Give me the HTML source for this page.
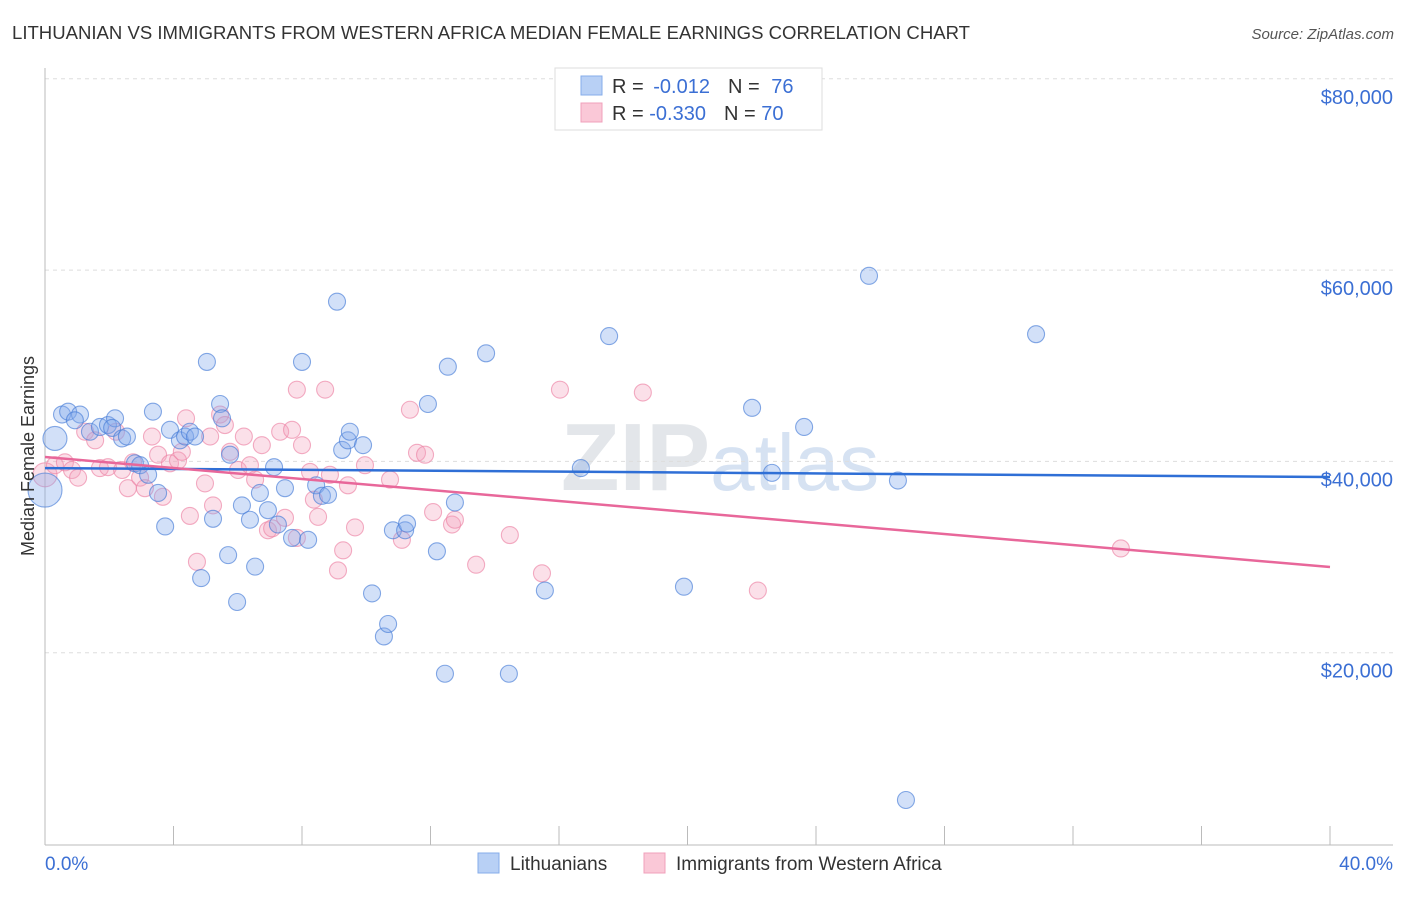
<!DOCTYPE html>
<html><head><meta charset="utf-8"><style>
body{margin:0;background:#fff;font-family:"Liberation Sans",sans-serif}
svg text{font-family:"Liberation Sans",sans-serif}
</style></head><body>
<svg id="chart" width="1406" height="892" xmlns="http://www.w3.org/2000/svg">
<text x="12" y="39" font-size="18" fill="#333" textLength="958" lengthAdjust="spacingAndGlyphs">LITHUANIAN VS IMMIGRANTS FROM WESTERN AFRICA MEDIAN FEMALE EARNINGS CORRELATION CHART</text>
<text x="1394" y="39" font-size="15" fill="#555" text-anchor="end" font-style="italic">Source: ZipAtlas.com</text>
<text x="720" y="490" font-size="96" fill="#e3e6ea" text-anchor="middle" font-family="Liberation Serif"><tspan font-weight="bold">ZIP</tspan><tspan fill="#d6e2f2" font-family="Liberation Sans" font-size="80">atlas</tspan></text>
<g id="grid"></g>
<g id="axes"></g>
<g id="pts"></g>
<g id="trends"></g>
<g>
<rect x="555" y="68" width="267" height="62" fill="#fff" stroke="#ddd"/>
<rect x="581" y="76" width="21" height="19" fill="#b8d0f5" stroke="#86acea"/>
<rect x="581" y="103" width="21" height="19" fill="#fac8d7" stroke="#f0a0bb"/>
<text x="612" y="93" font-size="20" fill="#333">R = <tspan fill="#3b6fd4" dx="4">-0.012</tspan><tspan dx="18" fill="#333">N = </tspan><tspan fill="#3b6fd4" dx="6">76</tspan></text>
<text x="612" y="120" font-size="20" fill="#333">R = <tspan fill="#3b6fd4">-0.330</tspan><tspan dx="18" fill="#333">N = </tspan><tspan fill="#3b6fd4">70</tspan></text>
</g>
<g>
<rect x="478" y="853" width="21" height="20" fill="#b8d0f5" stroke="#86acea"/>
<text x="510" y="870" font-size="19" fill="#333">Lithuanians</text>
<rect x="644" y="853" width="21" height="20" fill="#fac8d7" stroke="#f0a0bb"/>
<text x="676" y="870" font-size="19" fill="#333">Immigrants from Western Africa</text>
</g>
<text transform="translate(34,456) rotate(-90)" font-size="18" fill="#333" text-anchor="middle">Median Female Earnings</text>
</svg>
<script>
const yTicks=[20000,40000,60000,80000];
const yTickLabels=["$20,000","$40,000","$60,000","$80,000"];
const xTickLabels=["0.0%","40.0%"];
const blueX=[0.31,0,0.53,0.72,1.09,0.93,1.40,1.71,1.96,2.18,2.09,2.40,2.55,2.80,2.96,3.21,3.36,3.52,3.74,3.89,4.20,4.36,4.51,4.67,4.86,5.04,5.23,5.45,5.51,5.70,5.76,5.98,6.13,6.38,6.54,6.69,6.94,7.13,7.25,7.47,7.69,8.00,8.19,8.44,8.62,8.81,9.09,9.25,9.43,9.49,9.90,10.18,10.55,10.68,10.83,11.21,11.27,11.92,12.20,12.54,12.76,13.73,14.44,12.45,15.56,16.68,17.56,19.89,22.01,22.63,23.63,25.65,26.55,26.80,30.85,20.73];
const blueY=[42400,37000,44900,45200,44900,44300,43100,43600,43800,44500,43500,42400,42600,39800,39600,38600,45200,36700,33200,43300,42200,42600,43100,42600,27800,50400,34000,46000,44500,30200,40700,25300,35400,33900,29000,36700,34900,39400,33400,37200,32000,50400,31800,37500,36400,36500,56700,41200,42200,43100,41700,26200,21700,23000,32800,32800,33500,46000,30600,49900,35700,51300,17800,17800,26500,39300,53100,26900,45600,38800,43600,59400,38000,4600,53300,78100];
const blueR=[12,17];
const pinkX=[0,0.31,0.62,0.84,1.03,1.25,1.56,1.71,1.96,2.21,2.40,2.58,2.74,2.96,3.11,3.33,3.52,3.67,3.89,4.14,4.26,4.39,4.51,4.73,4.98,5.14,5.23,5.45,5.60,5.76,6.01,6.19,6.38,6.54,6.75,6.94,7.07,7.32,7.47,7.69,7.84,8.00,8.25,8.37,8.50,8.72,8.87,9.12,9.28,9.43,9.65,9.96,10.74,11.11,11.36,11.58,11.83,12.08,12.67,12.76,13.42,14.47,15.47,16.03,18.61,22.19,33.49,7.84];
const pinkY=[38600,39600,39900,39100,38300,43100,42200,39300,39400,43100,39100,37200,39900,38300,37200,42600,40700,36300,39800,40100,41000,44500,34300,29500,37700,42600,35400,44900,43800,41000,39100,42600,39600,38100,41700,32800,33000,43100,34100,43300,32000,41700,38900,36000,34200,47500,38600,28600,30700,37500,33100,39600,38100,31800,45400,40900,40700,34700,33400,33900,29200,32300,28300,47500,47200,26500,30900,47500];
const pinkR=[12];
const blueTrendX=[0,40], blueTrendY=[39300,38370];
const pinkTrendX=[0,40], pinkTrendY=[40460,28960];
const NS="http://www.w3.org/2000/svg";
const X0=45,X1=1330,YB=844;
const sx=v=>X0+(v/40)*(X1-X0);
const sy=v=>YB-(v/20000)*191.3;
function mk(tag,attrs,parent){const e=document.createElementNS(NS,tag);for(const k in attrs)e.setAttribute(k,attrs[k]);parent.appendChild(e);return e;}
const grid=document.getElementById('grid'),axes=document.getElementById('axes'),pts=document.getElementById('pts'),tr=document.getElementById('trends');
yTicks.forEach((t,i)=>{
 const l=mk('line',{x1:45,x2:1393,y1:sy(t),y2:sy(t),stroke:'#ddd','stroke-dasharray':'4,4'},grid);
 
 
 const tx=mk('text',{x:1393,y:sy(t)+25,'font-size':20,fill:'#3b6fd4','text-anchor':'end'},axes);
 tx.textContent=yTickLabels[i];
 
 
});
mk('line',{x1:45,x2:45,y1:68,y2:845,stroke:'#bbb'},axes);
mk('line',{x1:45,x2:1393,y1:845,y2:845,stroke:'#bbb'},axes);
for(let i=0;i<=10;i++){const x=sx(i*4);const t=mk('line',{x1:x,x2:x,y1:826,y2:845,stroke:'#bbb'},axes);
 
 }
[[0,'start',45],[1,'end',1393]].forEach(([i,a,x])=>{const t=mk('text',{x:x,y:870,'font-size':19,fill:'#3b6fd4','text-anchor':a},axes);t.textContent=xTickLabels[i];
 
 });
function series(xs,ys,rs,fill,stroke,name){xs.forEach((v,i)=>{const c=mk('circle',{cx:sx(v),cy:sy(ys[i]),r:rs[i]||8.5,fill:fill,stroke:stroke,'stroke-width':1.1},pts);
 
 });}
series(pinkX,pinkY,pinkR,'rgba(244,160,188,0.33)','rgba(236,130,165,0.65)','point-immigrants-western-africa');
series(blueX,blueY,blueR,'rgba(130,170,235,0.36)','rgba(70,125,215,0.65)','point-lithuanians');
const bl=mk('line',{x1:sx(blueTrendX[0]),y1:sy(blueTrendY[0]),x2:sx(blueTrendX[1]),y2:sy(blueTrendY[1]),stroke:'#2f6fd6','stroke-width':2.5},tr);


const pl=mk('line',{x1:sx(pinkTrendX[0]),y1:sy(pinkTrendY[0]),x2:sx(pinkTrendX[1]),y2:sy(pinkTrendY[1]),stroke:'#e8679a','stroke-width':2.5},tr);


</script>
</body></html>
